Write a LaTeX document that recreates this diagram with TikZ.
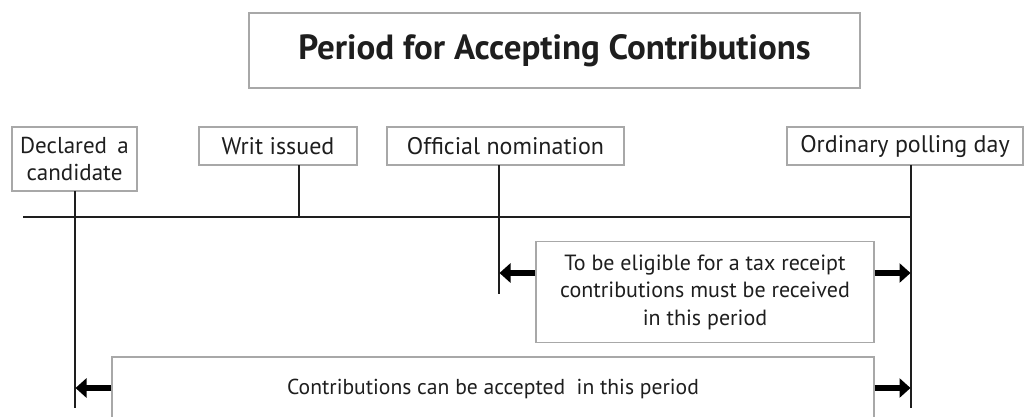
\documentclass[tikz,border=0pt]{standalone}
\usepackage{fontspec}
\setmainfont{PT Sans}
\usetikzlibrary{arrows.meta,calc}
\definecolor{boxline}{HTML}{A8A8A8}
\definecolor{ink}{HTML}{1E1E1E}
\tikzset{
  labelbox/.style={draw=boxline, line width=1.2pt, fill=white, inner sep=0pt,
    align=center, font=\fontsize{24}{27}\selectfont, text=ink},
  periodtext/.style={font=\fontsize{22}{27.5}\selectfont},
  tick/.style={draw=ink, line width=2.2pt},
  spanarrow/.style={draw=black, line width=6pt,
    -{Triangle[length=11pt,width=19pt]}, shorten >=-0.5pt},
}
\begin{document}
\begin{tikzpicture}[x=1pt,y=-1pt]
  \useasboundingbox (0,0) rectangle (1024,416);
  \clip (0,0) rectangle (1024,416);

  % heading
  \node[labelbox, minimum width=611pt, minimum height=75pt,
        font=\fontsize{35}{40}\bfseries\selectfont] (title) at (554.5,50.5)
        {Period for Accepting Contributions};

  % milestone labels
  \node[labelbox, minimum width=125pt, minimum height=64pt,
        font=\fontsize{23}{27}\selectfont] (declared) at (74.5,159)
        {Declared\hspace{0.45em}a\\candidate};
  \node[labelbox, minimum width=158pt, minimum height=38pt] (writ) at (278,146)
        {Writ issued};
  \node[labelbox, minimum width=237pt, minimum height=38pt] (official) at (505.5,146)
        {Official nomination};
  \node[labelbox, minimum width=236pt, minimum height=38pt] (polling) at (905,146)
        {Ordinary polling day};

  % timeline
  \coordinate (tlstart) at (23,217);
  \coordinate (tlend) at (912,217);
  \draw[tick] (tlstart) -- (tlend);

  % milestone ticks
  \coordinate (decTop) at (75,191);
  \coordinate (decBot) at (75,408);
  \coordinate (writTop) at (299,165);
  \coordinate (writBot) at (299,217);
  \coordinate (offTop) at (499,165);
  \coordinate (offBot) at (499,294);
  \coordinate (polTop) at (911,165);
  \coordinate (polBot) at (911,408);
  \draw[tick] (decTop) -- (decBot);
  \draw[tick] (writTop) -- (writBot);
  \draw[tick] (offTop) -- (offBot);
  \draw[tick] (polTop) -- (polBot);

  % periods
  \node[labelbox, periodtext, minimum width=338pt, minimum height=101pt] (tax) at (705,292)
        {To be eligible for a tax receipt\\contributions must be received\\in this period};
  \node[labelbox, periodtext, font=\fontsize{21.6}{26}\selectfont,
        minimum width=762pt, minimum height=64pt] (accept) at (493,389)
        {Contributions can be accepted\ \ in this period};

  \coordinate (taxL) at (500,273);
  \coordinate (taxR) at (910,273);
  \coordinate (accL) at (76,388);
  \coordinate (accR) at (910,388);
  \draw[spanarrow] (tax.west |- taxL) -- (taxL);
  \draw[spanarrow] (tax.east |- taxR) -- (taxR);
  \draw[spanarrow] (accept.west |- accL) -- (accL);
  \draw[spanarrow] (accept.east |- accR) -- (accR);
\end{tikzpicture}
\end{document}
